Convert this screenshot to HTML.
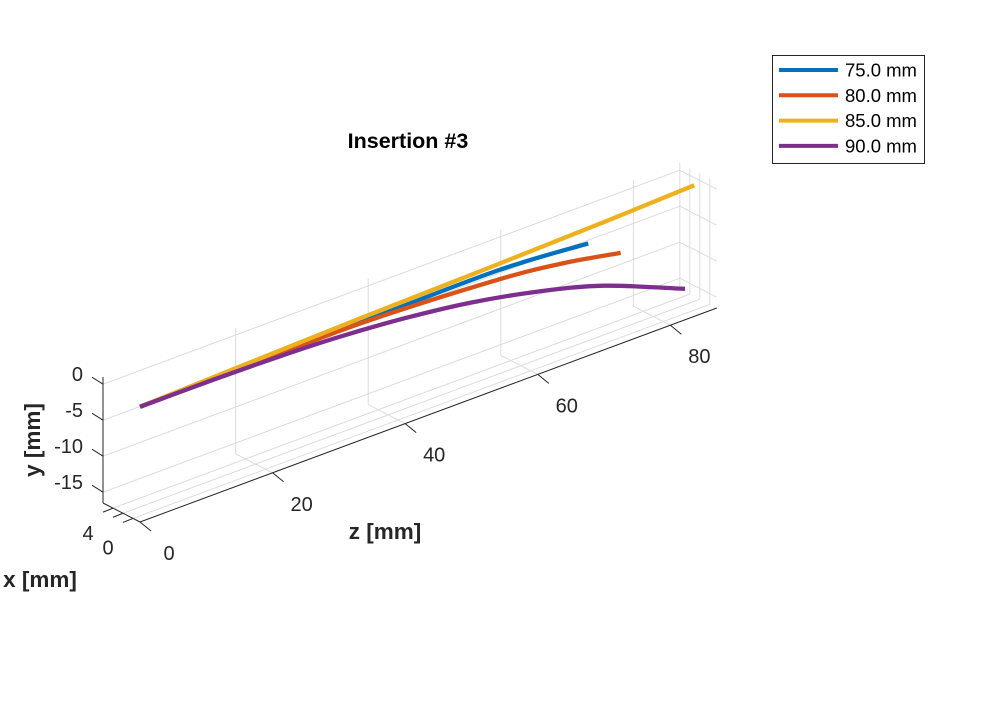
<!DOCTYPE html>
<html><head><meta charset="utf-8"><style>
body{margin:0;background:#fff;}
svg text{font-family:"Liberation Sans",Arial,sans-serif;}
</style></head><body>
<svg id="chart" width="1000" height="709" viewBox="0 0 1000 709" xmlns="http://www.w3.org/2000/svg">
<rect width="1000" height="709" fill="#fff"/>
<g id="grid" stroke="#dcdcdc" stroke-width="1" fill="none"></g>
<g id="axes" stroke="#262626" stroke-width="1" fill="none"></g>
<g id="ticklabels" fill="#262626" font-size="20"></g>
<g id="series" fill="none" stroke-width="4.3" stroke-linejoin="round"></g>
<text x="408" y="148" text-anchor="middle" font-size="21.5" font-weight="bold" fill="#000">Insertion #3</text>
<text x="385" y="539" text-anchor="middle" font-size="22.5" font-weight="bold" fill="#262626">z [mm]</text>
<text x="40" y="587" text-anchor="middle" font-size="22.5" font-weight="bold" fill="#262626">x [mm]</text>
<text x="0" y="0" transform="translate(40,440) rotate(-90)" text-anchor="middle" font-size="22.5" font-weight="bold" fill="#262626">y [mm]</text>
<g>
<rect x="772.5" y="55.5" width="152" height="108" fill="#fff" stroke="#262626" stroke-width="1"/>
<g id="legend-entries"></g>
</g>
</svg>
<script>
const seriesNames = ["75.0 mm","80.0 mm","85.0 mm","90.0 mm"];
const seriesColors = ["#0072BD","#D95319","#EDB120","#7E2F8E"];
const blueZ = [0, 17, 34, 54, 67.6];
const blueY = [-0.5, -0.3, -0.15, 0.0, -0.9];
const orangeZ = [0, 17, 34, 54, 64, 72.5];
const orangeY = [-0.5, -0.35, -0.3, -1.3, -2.4, -3.9];
const yellowZ = [0, 17, 34, 54, 70, 83.6];
const yellowY = [-0.5, 0.0, 0.45, 0.85, 1.25, 1.7];
const purpleZ = [0, 10, 20, 30, 40, 50, 60, 70, 82.2];
const purpleY = [-0.5, -0.52, -0.67, -1.05, -1.85, -3.1, -5.0, -7.6, -12.2];
const yTicks = [0, -5, -10, -15];
const zTicks = [0, 20, 40, 60, 80];
const xTicks = [4, 0, -4];
const xTickLabels = ["4", "0", ""];

const xmin = -6.8, xmax = 8, ymin = -16.5, ymax = 1, zmax = 87;
function P(x, y, z){
  const dx = x - xmin, dy = y - ymin;
  return [140 - 2.5*dx + 6.63*z, 522 - 1.284*dx - 2.46*z - 7.2*dy];
}
const NS = "http://www.w3.org/2000/svg";
function line(g, a, b, name){
  const l = document.createElementNS(NS, "line");
  l.setAttribute("x1", a[0]); l.setAttribute("y1", a[1]);
  l.setAttribute("x2", b[0]); l.setAttribute("y2", b[1]);
  
  
  g.appendChild(l);
  return l;
}
function text(g, x, y, s, anchor, name){
  const t = document.createElementNS(NS, "text");
  t.setAttribute("x", x); t.setAttribute("y", y);
  t.setAttribute("text-anchor", anchor);
  t.textContent = s;
  
  
  g.appendChild(t);
}
const grid = document.getElementById("grid");
const axes = document.getElementById("axes");
const tl = document.getElementById("ticklabels");
zTicks.forEach(z => { if (z === 0) return;
  line(grid, P(xmax, ymin, z), P(xmax, ymax, z), "grid-z-back");
  line(grid, P(xmax, ymin, z), P(xmin, ymin, z), "grid-z-floor");
});
yTicks.forEach(y => {
  line(grid, P(xmax, y, 0), P(xmax, y, zmax), "grid-y-back");
  line(grid, P(xmax, y, zmax), P(xmin, y, zmax), "grid-y-side");
});
xTicks.forEach(x => {
  line(grid, P(x, ymin, 0), P(x, ymin, zmax), "grid-x-floor");
  line(grid, P(x, ymin, zmax), P(x, ymax, zmax), "grid-x-side");
});
line(grid, P(xmax, ymin, zmax), P(xmax, ymax, zmax), "grid-back-corner");
line(axes, P(xmax, ymin, 0), P(xmax, ymax, 0), "y-axis-line");
line(axes, P(xmax, ymin, 0), P(xmin, ymin, 0), "x-axis-line");
line(axes, P(xmin, ymin, 0), P(xmin, ymin, zmax), "z-axis-line");
yTicks.forEach(y => {
  const b = P(xmax, y, 0);
  line(axes, b, [b[0]-11, b[1]-7], "y-tick");
  text(tl, b[0]-20, b[1]-3, String(y), "end", "y-tick-label");
});
zTicks.forEach(z => {
  const b = P(xmin, ymin, z);
  line(axes, b, [b[0]+11, b[1]+9], "z-tick");
  text(tl, b[0]+29, b[1]+38, String(z), "middle", "z-tick-label");
});
xTicks.forEach((x, i) => {
  const b = P(x, ymin, 0);
  line(axes, b, [b[0]-10, b[1]+4], "x-tick");
  if (xTickLabels[i]) text(tl, b[0]-25 + i*10, b[1]+32 + i*9, xTickLabels[i], "middle", "x-tick-label");
});
function smoothPath(pts){
  let d = "M" + pts[0][0].toFixed(1) + "," + pts[0][1].toFixed(1);
  for (let i = 0; i < pts.length - 1; i++){
    const p0 = pts[Math.max(0, i-1)], p1 = pts[i], p2 = pts[i+1], p3 = pts[Math.min(pts.length-1, i+2)];
    const c1 = [p1[0] + (p2[0]-p0[0])/6, p1[1] + (p2[1]-p0[1])/6];
    const c2 = [p2[0] - (p3[0]-p1[0])/6, p2[1] - (p3[1]-p1[1])/6];
    d += " C" + c1.map(v=>v.toFixed(1)).join(",") + " " + c2.map(v=>v.toFixed(1)).join(",") + " " + p2.map(v=>v.toFixed(1)).join(",");
  }
  return d;
}
const ser = document.getElementById("series");
const allZ = [blueZ, orangeZ, yellowZ, purpleZ];
const allY = [blueY, orangeY, yellowY, purpleY];
allZ.forEach((zs, k) => {
  const pts = zs.map((z, i) => P(xmin, allY[k][i], z));
  const pl = document.createElementNS(NS, "path");
  pl.setAttribute("d", smoothPath(pts));
  pl.setAttribute("stroke", seriesColors[k]);
  
  
  ser.appendChild(pl);
});
const leg = document.getElementById("legend-entries");
seriesNames.forEach((n, i) => {
  const y = 70 + i*25.3;
  const l = line(leg, [779, y], [838, y], "legend-swatch");
  l.setAttribute("stroke", seriesColors[i]);
  l.setAttribute("stroke-width", "4");
  const t = document.createElementNS(NS, "text");
  t.setAttribute("x", 845); t.setAttribute("y", y + 6.5);
  t.setAttribute("font-size", "18.5"); t.setAttribute("fill", "#000");
  t.textContent = n;
  
  
  leg.appendChild(t);
});
</script>
</body></html>
